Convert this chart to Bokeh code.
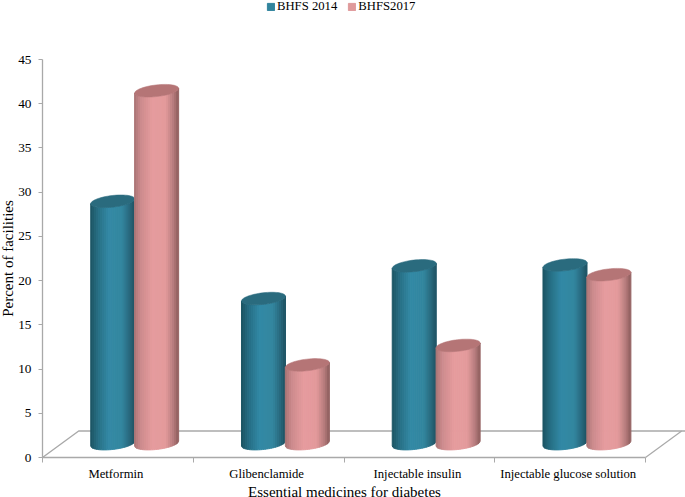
import numpy as np
from bokeh.embed import file_html
from bokeh.resources import INLINE
from bokeh.models import Range1d, FixedTicker, Legend, LegendItem, ColumnDataSource, Label
from bokeh.plotting import figure

categories = ["Metformin", "Glibenclamide", "Injectable insulin", "Injectable glucose solution"]
series_names = ["BHFS 2014", "BHFS2017"]
bhfs_2014 = [27.4, 16.4, 20.1, 20.2]
bhfs_2017 = [39.9, 8.9, 11.1, 19.1]
y_ticks = list(range(0, 50, 5))
x_title = "Essential medicines for diabetes"
y_title = "Percent of facilities"

FONT = "Liberation Serif"
GRAY = "#a9a9a9"
W, H = 685, 497
LEFT, BOTTOM = 42, 40            # page pixels left of x=0 and under y=0
PX_X, PX_Y = 150.75, 398 / 45    # page pixels per axis unit
DEPTH_X = 0.24
DEPTH_Y = 3.0
BASE = 1.57           # depth at which the cylinders stand
HALF_W = 0.146
ELL_B = 0.66
ELL_K = 0.27
OFFSETS = [0.466, 0.757]
LABEL_AT = 0.487
SHADES = [
    dict(stops=[(0, "#1b5362"), (.18, "#276f85"), (.42, "#3389a5"), (.72, "#33869f"), (.9, "#27677b"), (1, "#1e5262")],
         top="#2a6b7e", swatch="#31849d"),
    dict(stops=[(0, "#a97374"), (.15, "#cc8b8d"), (.42, "#e69c9e"), (.72, "#e39a9c"), (.9, "#b47a7b"), (1, "#8d5d5d")],
         top="#b57576", swatch="#df9a9b"),
]


def ramp(stops, t):
    pos = [s[0] for s in stops]
    out = []
    for ch in range(3):
        vals = [int(s[1][1 + 2 * ch:3 + 2 * ch], 16) for s in stops]
        out.append(int(round(np.interp(t, pos, vals))))
    return "#%02x%02x%02x" % tuple(out)


x_end = (W - LEFT) / PX_X
p = figure(width=W, height=H, output_backend="svg", toolbar_location=None,
           x_range=Range1d(-LEFT / PX_X, x_end), y_range=Range1d(-BOTTOM / PX_Y, (H - BOTTOM) / PX_Y),
           min_border_left=0, min_border_right=0, min_border_top=0, min_border_bottom=0)
p.grid.visible = False
p.outline_line_color = None
p.background_fill_color = "white"

# floor
p.line([0, DEPTH_X, x_end], [0, DEPTH_Y, DEPTH_Y], line_color=GRAY, line_width=1.4)
p.line([len(categories), len(categories) + DEPTH_X], [0, DEPTH_Y], line_color=GRAY, line_width=1.2)

# cylinders
N = 22
edges = np.linspace(-1, 1, N + 1)
for s, vals in enumerate([bhfs_2014, bhfs_2017]):
    theta = np.linspace(0, 2 * np.pi, 60)
    for i, v in enumerate(vals):
        xs, ys, cols = [], [], []
        cx = i + OFFSETS[s]
        top = v + BASE
        for j in range(N):
            u = np.linspace(edges[j], edges[j + 1], 4)
            bottom = BASE - ELL_B * np.sqrt(np.clip(1 - u * u, 0, 1)) + ELL_K * u
            upper = top - ELL_B * np.sqrt(np.clip(1 - u * u, 0, 1)) + ELL_K * u
            xs.append(list(cx + HALF_W * u) + list(cx + HALF_W * u[::-1]))
            ys.append(list(bottom) + list(upper[::-1]))
            cols.append(ramp(SHADES[s]["stops"], (j + .5) / N))
        p.patches(xs, ys, fill_color=cols, line_color=cols, line_width=1.0)
        p.patch(list(cx + HALF_W * np.cos(theta)), list(top + ELL_B * np.sin(theta) + ELL_K * np.cos(theta)),
                fill_color=SHADES[s]["top"], line_color=SHADES[s]["top"], line_width=0.5)

# axes, pinned at the zero lines inside the full-page frame
ax = p.xaxis[0]
ax.fixed_location = 0
ax.bounds = (0, len(categories))
label_pos = [i + LABEL_AT for i in range(4)]
ax.ticker = FixedTicker(ticks=label_pos, minor_ticks=list(range(5)))
ax.major_label_overrides = dict(zip(label_pos, categories))
ax.major_tick_line_color = None
ax.major_tick_in = 0
ax.major_tick_out = 0
ax.minor_tick_line_color = GRAY
ax.minor_tick_out = 5
ax.minor_tick_in = 0
ax.axis_line_color = GRAY
ax.axis_line_width = 1.3
ax.major_label_text_font = FONT
ax.major_label_text_font_size = "12.7px"
ax.major_label_text_color = "black"
ax.major_label_standoff = 4

ay = p.yaxis[0]
ay.fixed_location = 0
ay.ticker = FixedTicker(ticks=y_ticks, minor_ticks=[])
ay.bounds = (0, 45)
ay.major_tick_line_color = GRAY
ay.major_tick_out = 4
ay.major_tick_in = 0
ay.axis_line_color = GRAY
ay.axis_line_width = 1.3
ay.major_label_text_font = FONT
ay.major_label_text_font_size = "13.3px"
ay.major_label_text_color = "black"
ay.major_label_standoff = 7

p.add_layout(Label(x=344, y=6, x_units="screen", y_units="screen", text=x_title,
                   text_font=FONT, text_font_size="15px", text_color="black",
                   text_align="center", text_baseline="middle"))
p.add_layout(Label(x=7, y=239, x_units="screen", y_units="screen", text=y_title, angle=90, angle_units="deg",
                   text_font=FONT, text_font_size="15px", text_color="black",
                   text_align="center", text_baseline="middle"))

# legend (swatch renderers hold no visible box)
items = []
nan = float("nan")
for s, name in enumerate(series_names):
    r = p.quad(left="l", right="r", bottom="b", top="t",
               source=ColumnDataSource(dict(l=[nan], r=[nan], b=[nan], t=[nan])),
               fill_color=SHADES[s]["swatch"], line_color=SHADES[s]["swatch"])
    items.append(LegendItem(label=name, renderers=[r]))
leg = Legend(items=items, orientation="horizontal", location=(266, 483),
             border_line_color=None, background_fill_alpha=0,
             label_text_font=FONT, label_text_font_size="12.7px", label_text_color="black",
             glyph_width=9, glyph_height=9, label_standoff=2, spacing=10, padding=0, margin=0)
p.add_layout(leg)

open("out.html", "w").write(file_html(p, INLINE))
